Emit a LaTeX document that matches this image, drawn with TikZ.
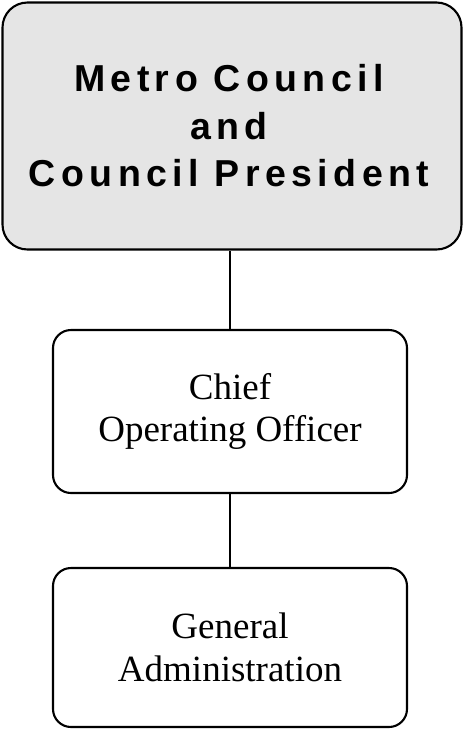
\documentclass[tikz,border=0pt]{standalone}
\usepackage{fontspec}
\setmainfont{Liberation Serif}
\newfontfamily\hdfont[LetterSpace=14.5]{Liberation Sans}
\definecolor{boxgray}{HTML}{E5E5E5}
\begin{document}
\begin{tikzpicture}[x=1pt,y=1pt,
  orgbox/.style={draw=black, line width=2.1pt, align=center, inner sep=0pt},
  conn/.style={draw=black, line width=2.4pt}]
\useasboundingbox (0,0) rectangle (464,-729);
\node[orgbox, fill=boxgray, rounded corners=25pt, minimum width=459pt, minimum height=247pt] (top) at (232,-126) {};
\node[align=center, inner sep=0pt, font=\hdfont\bfseries\fontsize{37.5}{47.5}\selectfont] (toptext) at (229,-126)
  {Metro Council\\and\\Council President};
\node[orgbox, fill=white, rounded corners=18pt, minimum width=354pt, minimum height=163pt,
  font=\fontsize{37}{42}\selectfont] (coo) at (230,-411.5)
  {Chief\\Operating Officer};
\node[orgbox, fill=white, rounded corners=18pt, minimum width=354pt, minimum height=159pt,
  font=\fontsize{37}{43}\selectfont] (ga) at (230,-647.5)
  {General\\Administration};
\draw[conn] (coo.north) -- (coo.north |- top.south);
\draw[conn] (ga.north) -- (coo.south);
\end{tikzpicture}
\end{document}
